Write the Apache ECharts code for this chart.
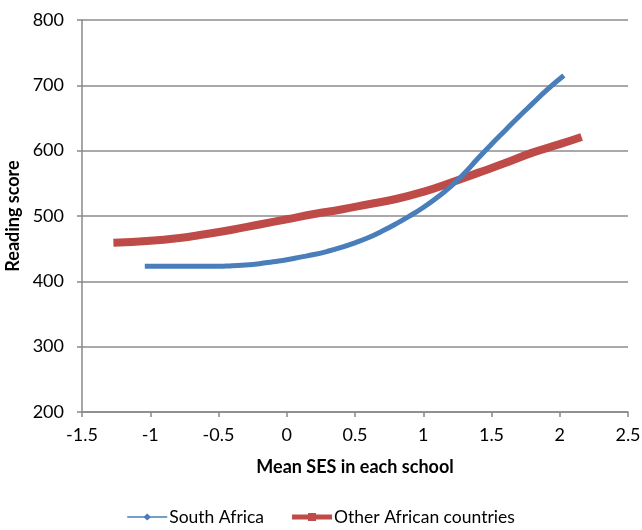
<!DOCTYPE html>
<html><head><meta charset="utf-8">
<script src="https://cdn.jsdelivr.net/npm/echarts@6/dist/echarts.min.js"></script>
<style>html,body{margin:0;padding:0;background:#fff}#c{width:642px;height:530px}</style>
</head><body><div id="c"></div>
<script>
const seriesNames = ["South Africa", "Other African countries"];
const saX = [-1.04,-0.9,-0.7,-0.5,-0.4,-0.3,-0.2,-0.1,0,0.1,0.2,0.3,0.4,0.5,0.6,0.7,0.8,0.9,1.0,1.1,1.2,1.3,1.4,1.5,1.6,1.7,1.8,1.9,2.03];
const saY = [423,423,423,423,424,425,427,430,433,437,441,446,452,459,467,477,488,500,513,528,545,565,588,610,631,652,672,692,715];
const oaX = [-1.27,-1.0,-0.8,-0.6,-0.4,-0.2,0,0.2,0.4,0.6,0.8,1.0,1.2,1.4,1.6,1.8,2.0,2.16];
const oaY = [459,462,466,472,479,487,495,503,510,518,526,537,551,566,581,597,610,621];
const xTitle = "Mean SES in each school";
const yTitle = "Reading score";

const font = "Lato, 'Open Sans', sans-serif";
const chart = echarts.init(document.getElementById('c'));
chart.setOption({
  animation: false,
  textStyle: {fontFamily: font},
  grid: {left: 82, right: 14, top: 20, bottom: 118, containLabel: false, outerBoundsMode: 'none'},
  legend: {
    bottom: -1, left: 'center', itemWidth: 40, itemHeight: 10, itemGap: 28,
    textStyle: {fontSize: 17.5, color: '#000', fontFamily: font, padding: [0, 0, 0, -3]},
    data: [
      {name: seriesNames[0], icon: 'path://M0,4.2L17,4.2L20,1.5L23,4.2L40,4.2L40,5.8L23,5.8L20,8.5L17,5.8L0,5.8Z'},
      {name: seriesNames[1], icon: 'path://M0,2.5L16,2.5L16,1L24,1L24,2.5L40,2.5L40,7.5L24,7.5L24,9L16,9L16,7.5L0,7.5Z'}
    ]
  },
  xAxis: {
    type: 'value', min: -1.5, max: 2.5, interval: 0.5,
    name: xTitle, nameLocation: 'middle', nameGap: 46,
    nameTextStyle: {fontSize: 18, fontWeight: 'bold', color: '#000', fontFamily: font},
    axisLine: {show: true, onZero: false, lineStyle: {color: '#888', width: 1.5}},
    axisTick: {show: true, length: 5, lineStyle: {color: '#888', width: 1.5}},
    axisLabel: {fontSize: 18, color: '#000', margin: 14},
    splitLine: {show: false}
  },
  yAxis: {
    type: 'value', min: 200, max: 800, interval: 100,
    name: yTitle, nameLocation: 'middle', nameGap: 53,
    nameTextStyle: {fontSize: 18, fontWeight: 'bold', color: '#000', fontFamily: font},
    axisLine: {show: true, onZero: false, lineStyle: {color: '#888', width: 1.5}},
    axisTick: {show: true, length: 5, lineStyle: {color: '#888', width: 1.5}},
    axisLabel: {fontSize: 18, color: '#000', margin: 18},
    splitLine: {show: true, lineStyle: {color: '#8c8c8c', width: 1.5}}
  },
  series: [
    {
      name: seriesNames[0], type: 'line', smooth: true,
      data: saX.map((x, i) => [x, saY[i]]),
      showSymbol: false, symbol: 'diamond', symbolSize: 6,
      lineStyle: {color: '#4a7ebb', width: 5},
      itemStyle: {color: '#4a7ebb'}, z: 3
    },
    {
      name: seriesNames[1], type: 'line', smooth: true,
      data: oaX.map((x, i) => [x, oaY[i]]),
      showSymbol: false, symbol: 'rect', symbolSize: 8,
      lineStyle: {color: '#be4b48', width: 8},
      itemStyle: {color: '#be4b48'}, z: 2
    }
  ]
});
</script></body></html>
